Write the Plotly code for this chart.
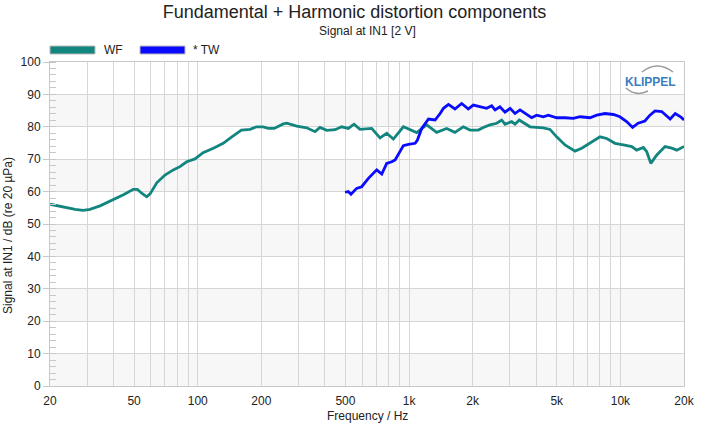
import plotly.graph_objects as go

# ---------------- data ----------------
wf_freq = [20, 22.7, 26.3, 28.7, 30.9, 34.5, 39.9, 44.5, 49.6, 51.8, 54.3, 57.4, 59.5, 64, 70, 76.6,
           82.4, 88.7, 97.1, 106, 118.6, 132, 145, 161, 177, 190, 204, 216, 230, 254, 264, 294,
           328, 359, 379, 408, 447, 480, 516, 549, 586, 666, 729, 784, 843, 940, 1087, 1211,
           1351, 1506, 1648, 1806, 1942, 2127, 2245, 2414, 2600, 2744, 2845, 3059, 3172, 3323,
           3735, 4016, 4318, 4644, 4993, 5470, 6102, 6562, 7184, 8012, 8617, 9435, 10330,
           11320, 11950, 12850, 13330, 13930, 14870, 16270, 17500, 18500, 20000]
wf_db = [56.1, 55.3, 54.5, 54.2, 54.5, 55.6, 57.4, 59.0, 60.7, 60.7, 59.5, 58.4, 59.3, 62.7, 65.1, 66.7,
         67.7, 69.2, 70.1, 72.0, 73.4, 74.9, 76.9, 79.0, 79.2, 80.0, 80.0, 79.5, 79.5, 80.9, 81.1, 80.2,
         79.7, 78.5, 79.8, 78.9, 79.1, 80.0, 79.5, 80.8, 79.2, 79.5, 76.6, 78.0, 76.2, 80.0, 78.2, 80.6,
         78.3, 79.5, 78.3, 80.0, 79.0, 79.0, 79.8, 80.6, 81.1, 82.1, 80.8, 81.6, 80.8, 82.1,
         80.0, 79.8, 79.7, 79.2, 76.9, 74.4, 72.5, 73.4, 74.9, 76.9, 76.4, 74.9, 74.4,
         73.9, 72.8, 73.6, 72.3, 68.7, 71.3, 73.9, 73.4, 72.8, 73.9]

tw_freq = [498, 516, 531, 565, 597, 642, 703, 743, 784, 828, 859, 940, 993, 1069, 1095, 1148, 1236,
           1328, 1403, 1455, 1536, 1649, 1774, 1907, 2015, 2167, 2329, 2460, 2552, 2692, 2845,
           3007, 3172, 3350, 3602, 3800, 4016, 4318, 4560, 4993, 5470, 5985, 6443, 7184, 7725,
           8460, 9260, 9950, 10700, 11420, 12130, 13060, 13800, 14590, 15680, 17200, 18180,
           19260, 20000]
tw_db = [59.8, 60.0, 59.2, 61.0, 61.5, 64.1, 66.7, 65.4, 68.7, 69.2, 69.8, 74.2, 74.6, 74.9, 75.9, 79.5, 82.4,
         82.1, 84.1, 85.7, 86.9, 85.5, 87.2, 85.5, 86.7, 86.2, 85.7, 86.5, 85.2, 86.2, 84.5,
         85.7, 84.1, 85.2, 83.9, 82.8, 83.6, 83.1, 83.6, 82.8, 82.8, 82.6, 83.1, 82.8, 83.6,
         84.1, 83.8, 83.1, 81.6, 79.8, 81.1, 81.8, 83.6, 84.9, 84.7, 82.4, 84.1,
         83.1, 82.1]

x_grid = [20, 30, 40, 50, 60, 70, 80, 90, 100, 200, 300, 400, 500, 600, 700, 800, 900,
          1000, 2000, 3000, 4000, 5000, 6000, 7000, 8000, 9000, 10000, 20000]
x_labels = {20: "20", 50: "50", 100: "100", 200: "200", 500: "500", 1000: "1k",
            2000: "2k", 5000: "5k", 10000: "10k", 20000: "20k"}
y_ticks = [0, 10, 20, 30, 40, 50, 60, 70, 80, 90, 100]
bands = [(0, 10), (20, 30), (40, 50), (60, 70), (80, 90)]

WF_COLOR = "#13857f"
TW_COLOR = "#0a0aff"
FONT = "Liberation Sans, Arial, sans-serif"
TXT = "#222222"

fig = go.Figure()
fig.add_trace(go.Scatter(x=wf_freq, y=wf_db, mode="lines", name="WF",
                         line=dict(color=WF_COLOR, width=2.8), showlegend=False))
fig.add_trace(go.Scatter(x=tw_freq, y=tw_db, mode="lines", name="* TW",
                         line=dict(color=TW_COLOR, width=2.8), showlegend=False))

shapes = []
for lo, hi in bands:
    shapes.append(dict(type="rect", xref="paper", yref="y", x0=0, x1=1, y0=lo, y1=hi,
                       fillcolor="#f7f7f7", line=dict(width=0), layer="below"))

def px2paper(px, py):
    return (px - 50) / 634.0, (386 - py) / 324.0

# legend swatches
for (x0, x1, col) in [(50, 95, WF_COLOR), (140, 185, TW_COLOR)]:
    a0, b0 = px2paper(x0, 46)
    a1, b1 = px2paper(x1, 54)
    shapes.append(dict(type="rect", xref="paper", yref="paper", x0=a0, x1=a1, y0=b1, y1=b0,
                       fillcolor=col, line=dict(color="#bbbbbb", width=1)))

# logo arcs
def qpath(p0, c, p1):
    a = px2paper(*p0); b = px2paper(*c); d = px2paper(*p1)
    return f"M {a[0]},{a[1]} Q {b[0]},{b[1]} {d[0]},{d[1]}"

shapes.append(dict(type="path", xref="paper", yref="paper",
                   path=qpath((642, 72), (657, 60), (673, 72)), line=dict(color="#9a9a9a", width=1.5)))
shapes.append(dict(type="path", xref="paper", yref="paper",
                   path=qpath((626, 88), (636, 97), (648, 91)), line=dict(color="#9a9a9a", width=1.5)))

annotations = []
sx, sy = px2paper(354.5, 31)
annotations.append(dict(text="Signal at IN1 [2 V]", x=0.5, xref="paper", y=sy, yref="paper",
                        xanchor="center", yanchor="middle", showarrow=False,
                        font=dict(family=FONT, size=12, color=TXT)))
for px, label in [(102, "WF"), (191, "* TW")]:
    ax, ay = px2paper(px, 50)
    annotations.append(dict(text=label, x=ax, xref="paper", y=ay, yref="paper",
                            xanchor="left", yanchor="middle", showarrow=False,
                            font=dict(family=FONT, size=12, color=TXT)))
lx, ly = px2paper(650, 82)
annotations.append(dict(text="<b>KLIPPEL</b>", x=lx, xref="paper", y=ly, yref="paper",
                        xanchor="center", yanchor="middle", showarrow=False,
                        font=dict(family=FONT, size=12, color="#3b7fbd")))
# axis titles
tx, ty = px2paper(367, 416)
annotations.append(dict(text="Frequency / Hz", x=0.5, xref="paper", y=ty, yref="paper",
                        xanchor="center", yanchor="middle", showarrow=False,
                        font=dict(family=FONT, size=12, color=TXT)))
yx, yy = px2paper(8, 236)
annotations.append(dict(text="Signal at IN1 / dB (re 20 µPa)", x=yx, xref="paper", y=yy, yref="paper",
                        xanchor="center", yanchor="middle", showarrow=False, textangle=-90,
                        font=dict(family=FONT, size=12, color=TXT)))

fig.update_layout(
    width=709, height=427,
    margin=dict(l=50, r=25, t=62, b=41, autoexpand=False),
    paper_bgcolor="white", plot_bgcolor="white",
    font=dict(family=FONT, size=12, color=TXT),
    title=dict(text="Fundamental + Harmonic distortion components", x=0.5, xanchor="center",
               y=1 - 12 / 427, yanchor="middle", yref="container",
               font=dict(family=FONT, size=18, color=TXT)),
    shapes=shapes, annotations=annotations,
)
fig.update_xaxes(type="log", range=[1.30103, 4.30103], automargin=False,
                 tickvals=x_grid, ticktext=[x_labels.get(v, "") for v in x_grid],
                 showgrid=True, gridcolor="#d6d6d6", gridwidth=1,
                 ticks="", ticklabelstandoff=4, showline=True, linecolor="#c8c8c8", mirror=True,
                 zeroline=False,
                 tickfont=dict(family=FONT, size=12, color=TXT))
fig.update_yaxes(range=[0, 100], tickvals=y_ticks, showgrid=True, gridcolor="#d6d6d6", automargin=False,
                 ticks="outside", ticklen=6, tickcolor="#c8c8c8",
                 minor=dict(dtick=2, ticks="inside", ticklen=6, tickcolor="#c8c8c8", showgrid=False),
                 showline=True, linecolor="#c8c8c8", mirror=True, zeroline=False,
                 tickfont=dict(family=FONT, size=12, color=TXT))

fig.write_html("out.html")
